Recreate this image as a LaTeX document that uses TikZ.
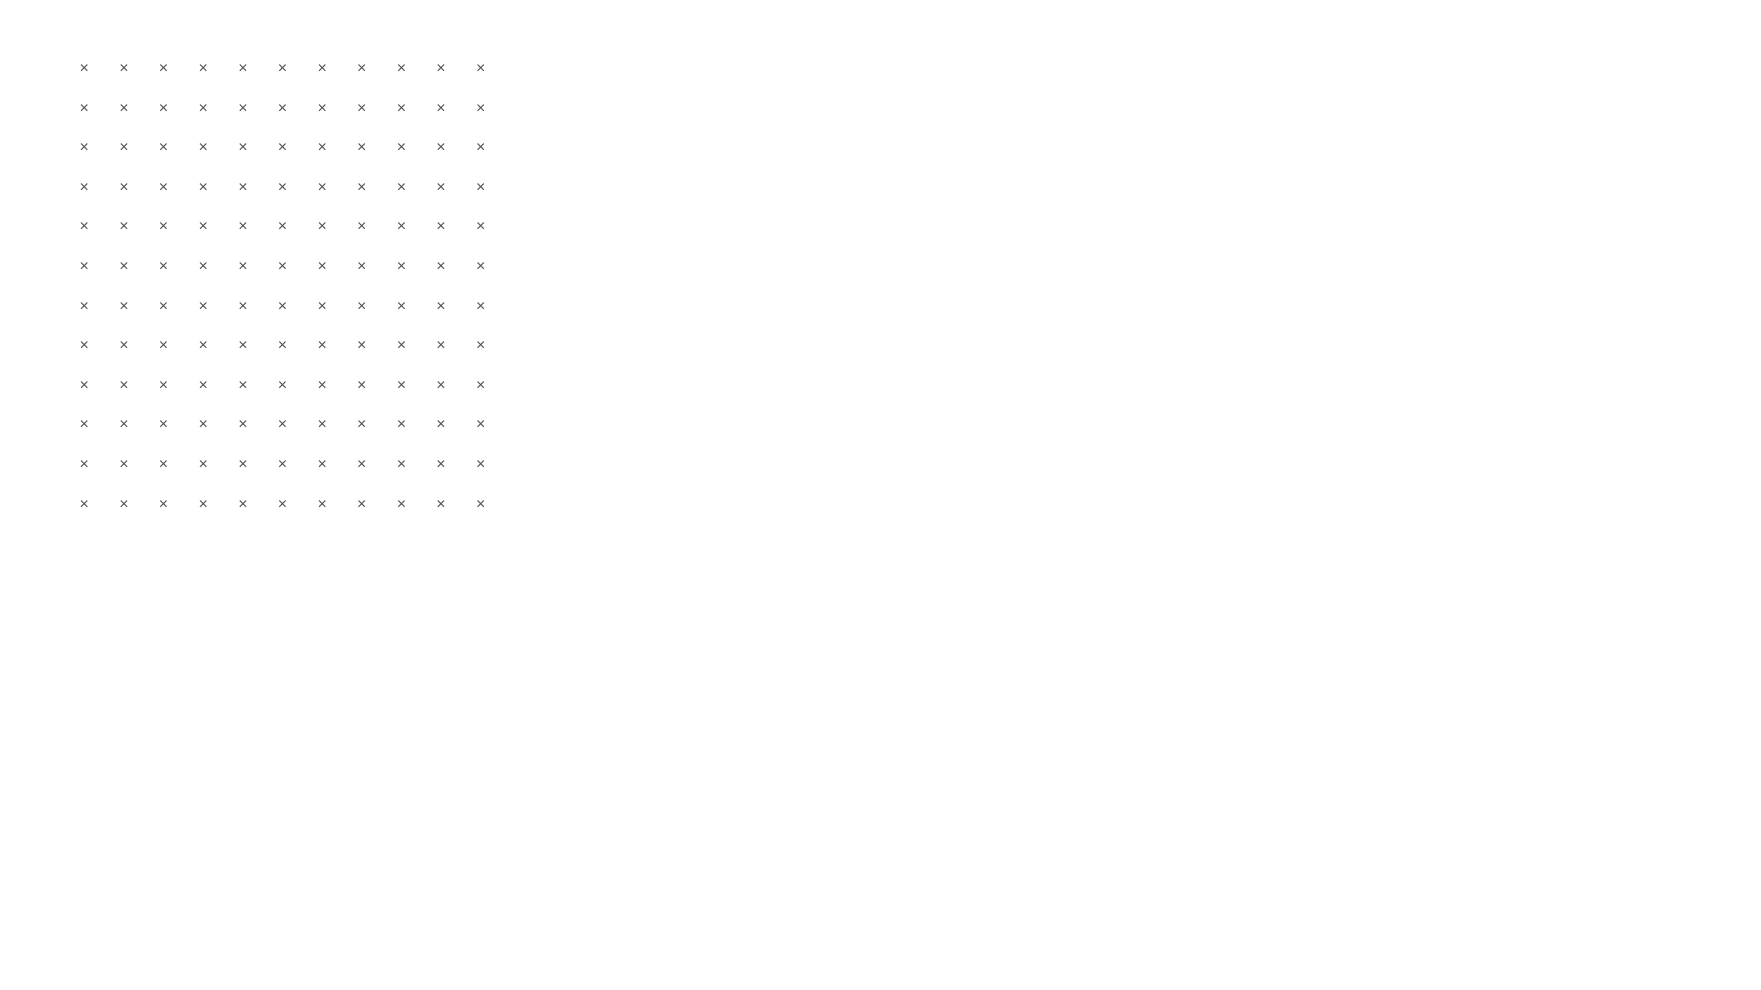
\documentclass[tikz,border=0pt]{standalone}
\usepackage{fontspec}
\setmainfont{Liberation Sans}
\begin{document}
\begin{tikzpicture}[x=0.5pt,y=-0.5pt,
	cross/.style={text=black!68,inner sep=0pt,font=\fontsize{8}{9}\selectfont}]
	\useasboundingbox (0,0) rectangle (1761,990);

	\foreach \i in {0,...,10}
		\foreach \j in {0,...,11}
			\node[cross] (m-\i-\j) at (84.4+39.63*\i,69+39.6*\j) {×};
\end{tikzpicture}
\end{document}
